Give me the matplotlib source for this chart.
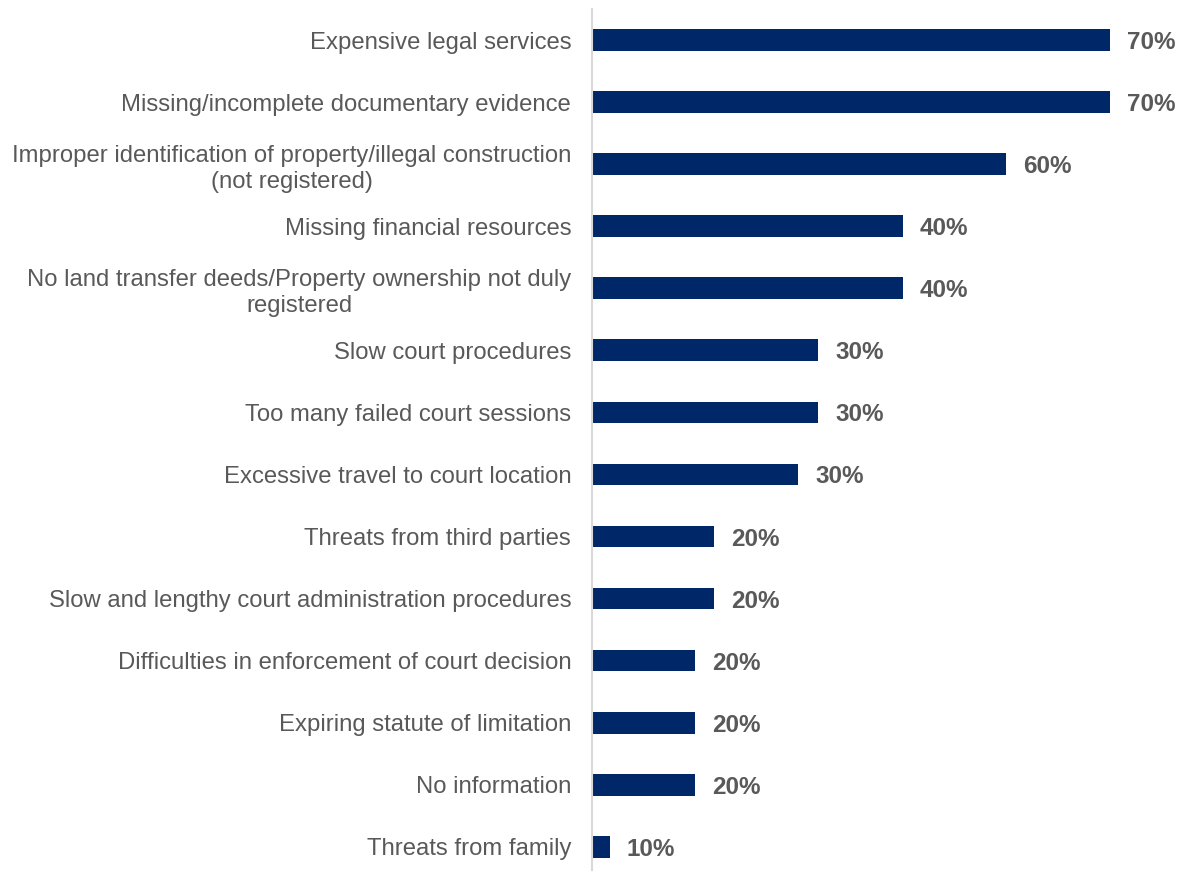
import matplotlib
matplotlib.use("Agg")
import matplotlib.pyplot as plt

plt.rcParams["font.family"] = ["Liberation Sans", "DejaVu Sans"]

CATEGORIES = [
    "Expensive legal services",
    "Missing/incomplete documentary evidence",
    "Improper identification of property/illegal construction\n(not registered)",
    "Missing financial resources",
    "No land transfer deeds/Property ownership not duly\nregistered",
    "Slow court procedures",
    "Too many failed court sessions",
    "Excessive travel to court location",
    "Threats from third parties",
    "Slow and lengthy court administration procedures",
    "Difficulties in enforcement of court decision",
    "Expiring statute of limitation",
    "No information",
    "Threats from family",
]
# bar lengths as drawn (percent), labels as printed on the chart
VALUES = [70.0, 70.0, 56.0, 42.0, 42.0, 30.6, 30.6, 27.9, 16.5, 16.5, 13.9, 13.9, 13.9, 2.4]
LABELS = ["70%", "70%", "60%", "40%", "40%", "30%", "30%", "30%",
          "20%", "20%", "20%", "20%", "20%", "10%"]

BAR = "#002868"
TEXT = "#595959"

fig = plt.figure(figsize=(11.8, 8.71), dpi=100)
ax = fig.add_axes([592 / 1180, 0.0, 588 / 1180, 862 / 871])

y = list(range(len(CATEGORIES)))
ax.barh(y, VALUES, height=0.35, color=BAR)
ax.set_xlim(0, 79.5)
ax.set_ylim(13.39, -0.5)

for yi, v, lab in zip(y, VALUES, LABELS):
    ax.text(v + 2.3, yi, lab, va="center_baseline", ha="left", fontsize=17.5,
            fontweight="bold", color=TEXT)

ax.set_yticks(y)
ax.set_yticklabels(CATEGORIES, fontsize=17.2, color=TEXT,
                   multialignment="center", linespacing=1.23)
ax.tick_params(axis="y", length=0, pad=15)
ax.set_xticks([])
for side in ["top", "right", "bottom"]:
    ax.spines[side].set_visible(False)
ax.spines["left"].set_color("#d9d9d9")
ax.spines["left"].set_linewidth(1.5)

fig.savefig("out.png", dpi=100)
